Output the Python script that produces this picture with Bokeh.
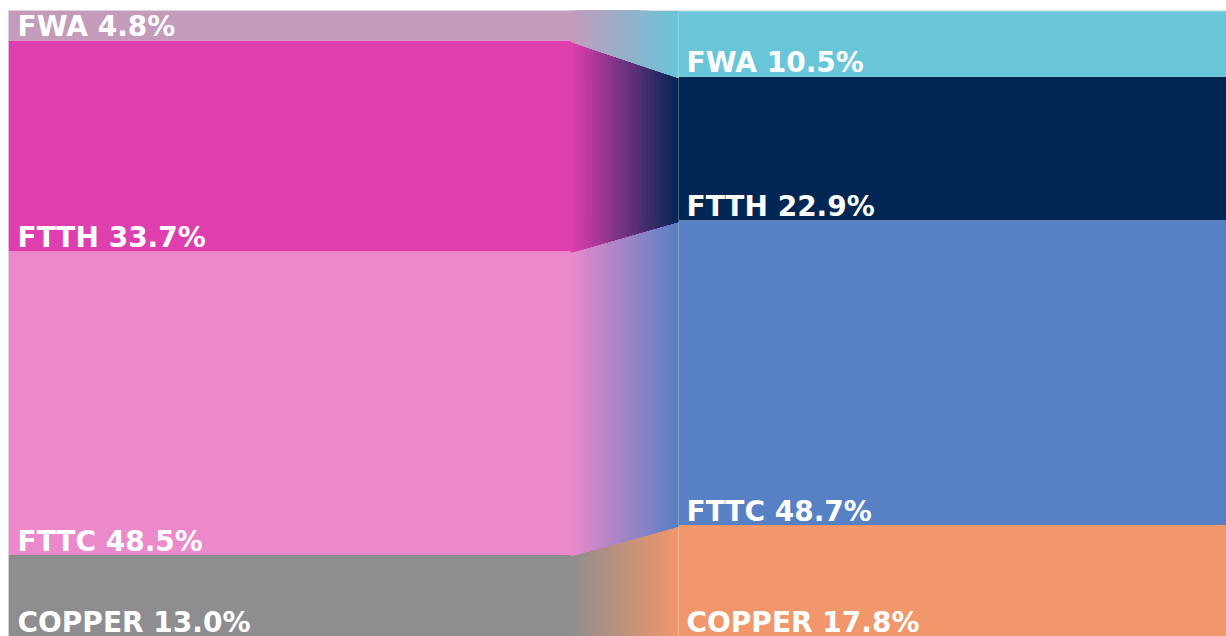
import numpy as np
from bokeh.plotting import figure
from bokeh.models import Range1d
from bokeh.embed import file_html
from bokeh.resources import INLINE
from bokeh.core.properties import value

# ---- data (bottom to top) ----
categories = ["COPPER", "FTTC", "FTTH", "FWA"]
left_share = [13.0, 48.5, 33.7, 4.8]
right_share = [17.8, 48.7, 22.9, 10.5]
left_colors = ["#8E8E90", "#EB89CB", "#DF3FAE", "#C49BBB"]
right_colors = ["#F2976B", "#5880C4", "#002654", "#69C5D8"]

# ---- layout (frame pixel units) ----
FW = 1218
LEFT_X0, LEFT_X1 = 0, 562
RIGHT_X0, RIGHT_X1 = 670, 1218
N_STEPS = 80


def hex2rgb(h):
    h = h.lstrip("#")
    return np.array([int(h[i:i + 2], 16) for i in (0, 2, 4)], dtype=float)


def rgb2hex(c):
    return "#%02x%02x%02x" % tuple(int(round(v)) for v in c)


lb = np.concatenate([[0], np.cumsum(left_share)])
rb = np.concatenate([[0], np.cumsum(right_share)])

p = figure(width=1226, height=636, x_range=Range1d(0, FW), y_range=Range1d(0, 100),
           output_backend="svg", toolbar_location=None,
           min_border=0, min_border_top=10, min_border_left=8,
           min_border_right=0, min_border_bottom=0)
p.axis.visible = False
p.grid.visible = False
p.outline_line_color = "#e4e4e4"
p.background_fill_color = "white"

# left and right columns
p.quad(left=LEFT_X0, right=LEFT_X1 + 1, bottom=lb[:-1], top=lb[1:],
       fill_color=left_colors, line_color=None)
p.quad(left=RIGHT_X0, right=RIGHT_X1, bottom=rb[:-1], top=rb[1:],
       fill_color=right_colors, line_color=None)

# gradient transition bands: each step covers from its start to the right
# column, drawn left to right so later steps overlay earlier ones (no seams)
xs, ys, cols = [], [], []
span = RIGHT_X0 - LEFT_X1
ov = 0.2  # small vertical overlap to hide seams between bands
for k in range(len(categories)):
    c0, c1 = hex2rgb(left_colors[k]), hex2rgb(right_colors[k])
    for i in range(N_STEPS):
        t0 = i / N_STEPS
        xa = LEFT_X1 + span * t0
        xb = RIGHT_X0 + 0.5
        ba = lb[k] + (rb[k] - lb[k]) * t0 - (ov if k > 0 else 0)
        bb = rb[k] - (ov if k > 0 else 0)
        ta = lb[k + 1] + (rb[k + 1] - lb[k + 1]) * t0
        tb = rb[k + 1]
        xs.append([xa, xb, xb, xa])
        ys.append([ba, bb, tb, ta])
        cols.append(rgb2hex(c0 + (c1 - c0) * (t0 + 0.5 / N_STEPS)))
p.patches(xs, ys, fill_color=cols, line_color=None)

# thin light divider at the right column edge
p.segment(x0=[RIGHT_X0], y0=[0], x1=[RIGHT_X0], y1=[100],
          line_color="white", line_alpha=0.25, line_width=1)

# labels
lx = [LEFT_X0 + 9] * len(categories)
rx = [RIGHT_X0 + 8] * len(categories)
ltxt = [f"{c} {v:.1f}%" for c, v in zip(categories, left_share)]
rtxt = [f"{c} {v:.1f}%" for c, v in zip(categories, right_share)]
common = dict(text_font=value("DejaVu Sans"), text_font_style="bold",
              text_font_size="28px", text_color="white",
              text_baseline="alphabetic", text_align="left", y_offset=-14)
p.text(x=lx, y=list(lb[:-1]), text=ltxt, **common)
p.text(x=rx, y=list(rb[:-1]), text=rtxt, **common)

open("out.html", "w").write(file_html(p, INLINE))
